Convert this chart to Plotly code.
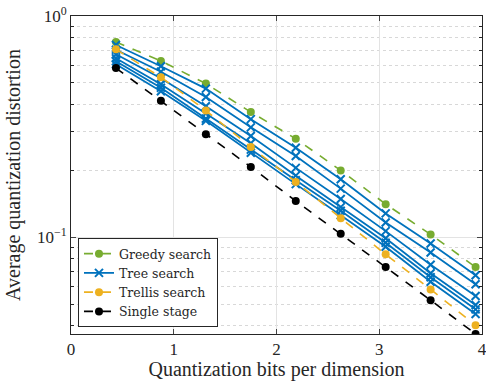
import plotly.graph_objects as go
import math

bits = [0.4375, 0.875, 1.3125, 1.75, 2.1875, 2.625, 3.0625, 3.5, 3.9375]

greedy = [0.763, 0.627, 0.495, 0.368, 0.279, 0.2006, 0.1413, 0.1031, 0.0734]
tree_1 = [0.740, 0.593, 0.470, 0.342, 0.254, 0.183, 0.1283, 0.0939, 0.0674]
tree_2 = [0.704, 0.560, 0.431, 0.314, 0.233, 0.166, 0.1168, 0.0855, 0.0614]
tree_3 = [0.672, 0.523, 0.391, 0.287, 0.206, 0.149, 0.1067, 0.0752, 0.0543]
tree_4 = [0.644, 0.492, 0.363, 0.266, 0.190, 0.137, 0.0990, 0.0688, 0.0495]
tree_5 = [0.625, 0.474, 0.344, 0.249, 0.181, 0.132, 0.0945, 0.0660, 0.0473]
tree_6 = [0.605, 0.457, 0.336, 0.241, 0.174, 0.126, 0.0907, 0.0630, 0.0451]
trellis = [0.707, 0.529, 0.374, 0.256, 0.178, 0.122, 0.0838, 0.0582, 0.0401]
single = [0.582, 0.414, 0.292, 0.208, 0.146, 0.1038, 0.0734, 0.0520, 0.0366]

tree_runs = [tree_1, tree_2, tree_3, tree_4, tree_5, tree_6]

x_ticks = [0, 1, 2, 3, 4]
y_tickvals = [0.1, 1]
y_ticktext = ["10<sup>−1</sup>", "10<sup>0</sup>"]

GREEN = "#77AC30"
BLUE = "#0072BD"
ORANGE = "#EDB120"
BLACK = "#000000"

fig = go.Figure()

fig.add_trace(go.Scatter(x=bits, y=greedy, mode="lines+markers", name="Greedy search",
                         line=dict(color=GREEN, width=1.6, dash="dash"),
                         marker=dict(symbol="circle", size=8, color=GREEN)))
for i, t in enumerate(tree_runs):
    fig.add_trace(go.Scatter(x=bits, y=t, mode="lines+markers", name="Tree search",
                             showlegend=(i == 0), legendgroup="tree",
                             line=dict(color=BLUE, width=1.8),
                             marker=dict(symbol="x-thin-open", size=8,
                                         line=dict(color=BLUE, width=2))))
fig.add_trace(go.Scatter(x=bits, y=trellis, mode="lines+markers", name="Trellis search",
                         line=dict(color=ORANGE, width=1.6, dash="dash"),
                         marker=dict(symbol="circle", size=8, color=ORANGE)))
fig.add_trace(go.Scatter(x=bits, y=single, mode="lines+markers", name="Single stage",
                         line=dict(color=BLACK, width=1.6, dash="dash"),
                         marker=dict(symbol="circle", size=8, color=BLACK)))

FONT = "Liberation Serif"

fig.update_layout(
    width=486, height=381,
    margin=dict(l=71, r=4, t=16, b=47, autoexpand=False),
    paper_bgcolor="white", plot_bgcolor="white",
    font=dict(family=FONT, size=16, color="#262626"),
    showlegend=True,
    legend=dict(x=0.017, y=0.022, xanchor="left", yanchor="bottom",
                bgcolor="white", bordercolor="#262626", borderwidth=1,
                font=dict(family="DejaVu Serif", size=12.5, color="#262626"),
                tracegroupgap=0, itemwidth=30),
    xaxis=dict(range=[0, 4], tickvals=x_ticks, ticks="inside", ticklen=5,
               showline=True, linecolor="#262626", linewidth=1, mirror="ticks",
               showgrid=True, gridcolor="#e3e3e3", gridwidth=1, zeroline=False,
               ticklabeloverflow="allow", automargin=False,
               title=dict(text="Quantization bits per dimension", font=dict(size=20), standoff=3),
               tickfont=dict(size=17)),
    yaxis=dict(type="log", range=[math.log10(single[-1]), 0],
               tickvals=y_tickvals, ticktext=y_ticktext,
               ticks="inside", ticklen=5,
               showline=True, linecolor="#262626", linewidth=1, mirror="ticks",
               showgrid=True, gridcolor="#e3e3e3", gridwidth=1, zeroline=False,
               ticklabeloverflow="allow", automargin=False,
               minor=dict(ticks="inside", ticklen=3, showgrid=True, gridcolor="#d8d8d8",
                          griddash="dot", tickcolor="#262626", dtick="D1"),
               title=dict(text="Average quantization distortion", font=dict(size=20), standoff=10),
               tickfont=dict(size=17)),
)

# remove the page's default body margin so the figure sits at the window's corner
fig.write_html("out.html", config={"displayModeBar": False},
               post_script="document.body.style.margin='0';")
